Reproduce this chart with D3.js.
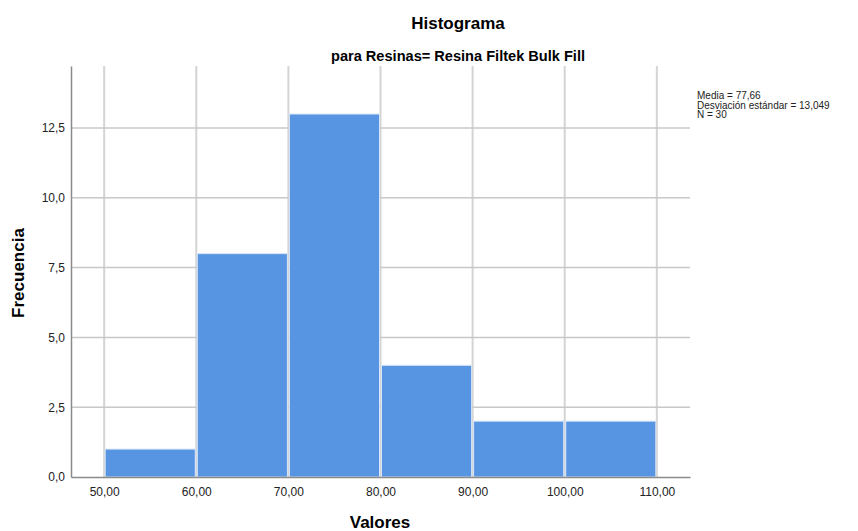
<!DOCTYPE html>
<html>
<head>
<meta charset="utf-8">
<script src="https://cdn.jsdelivr.net/npm/d3@7"></script>
<style>
  body { margin: 0; background: #fff; }
  text { font-family: "Liberation Sans", Arial, sans-serif; }
</style>
</head>
<body>
<div id="chart"></div>
<script>
const binStarts = [50, 60, 70, 80, 90, 100];
const binWidth = 10;
const counts = [1, 8, 13, 4, 2, 2];
const xTicks = [50, 60, 70, 80, 90, 100, 110];
const yTicks = [0, 2.5, 5, 7.5, 10, 12.5];
const statsLines = ["Media = 77,66", "Desviación estándar = 13,049", "N = 30"];

const fullWidth = 858;
const fullHeight = 531;
const margin = { top: 66, right: 168, bottom: 54, left: 71 };
const width = fullWidth - margin.left - margin.right;
const height = fullHeight - margin.top - margin.bottom;

const svg = d3
  .select("#chart")
  .append("svg")
  .attr("width", fullWidth)
  .attr("height", fullHeight);

const g = svg.append("g").attr("transform", `translate(${margin.left}, ${margin.top})`);

const x = d3.scaleLinear().domain([46.4, 113.6]).range([0, width]);
const y = d3.scaleLinear().domain([0, 14.72]).range([height, 0]);

const fmtX = d => d3.format(".2f")(d).replace(".", ",");
const fmtY = d => d3.format(".1f")(d).replace(".", ",");

// grid
g.selectAll(".vgrid")
  .data(xTicks)
  .enter()
  .append("line")
  .attr("x1", d => x(d))
  .attr("x2", d => x(d))
  .attr("y1", 0)
  .attr("y2", height)
  .style("stroke", "#d4d4d4")
  .style("stroke-width", 2);

g.selectAll(".hgrid")
  .data(yTicks.filter(d => d > 0))
  .enter()
  .append("line")
  .attr("x1", 0)
  .attr("x2", width)
  .attr("y1", d => y(d))
  .attr("y2", d => y(d))
  .style("stroke", "#c8c8c8")
  .style("stroke-width", 1.5);

// bars
g.selectAll(".bar")
  .data(counts)
  .enter()
  .append("rect")
  .attr("x", (d, i) => x(binStarts[i]) + 1)
  .attr("width", (d, i) => x(binStarts[i] + binWidth) - x(binStarts[i]) - 2)
  .attr("y", d => y(d))
  .attr("height", d => y(0) - y(d))
  .style("fill", "#5795e3")
  .style("stroke", "#d7e6f8")
  .style("stroke-width", 1);

// axes
const xAxis = g
  .append("g")
  .attr("transform", `translate(0, ${height})`)
  .call(d3.axisBottom(x).tickValues(xTicks).tickFormat(fmtX).tickSize(0).tickPadding(10));
xAxis.select(".domain").style("stroke", "#8a8a8a").style("stroke-width", 1.5);
xAxis.selectAll("text").style("font-size", "12px").style("fill", "#222");

const yAxis = g
  .append("g")
  .call(d3.axisLeft(y).tickValues(yTicks).tickFormat(fmtY).tickSize(0).tickPadding(6));
yAxis.select(".domain").style("stroke", "#8a8a8a").style("stroke-width", 1.5);
yAxis.selectAll("text").style("font-size", "12px").style("fill", "#222");

// titles
svg
  .append("text")
  .attr("x", 458)
  .attr("y", 29)
  .attr("text-anchor", "middle")
  .style("font-size", "17px")
  .style("font-weight", "bold")
  .text("Histograma");

svg
  .append("text")
  .attr("x", 458)
  .attr("y", 61)
  .attr("text-anchor", "middle")
  .attr("textLength", 254)
  .attr("lengthAdjust", "spacingAndGlyphs")
  .style("font-size", "14px")
  .style("font-weight", "bold")
  .text("para Resinas= Resina Filtek Bulk Fill");

svg
  .append("text")
  .attr("x", 380)
  .attr("y", 528)
  .attr("text-anchor", "middle")
  .style("font-size", "17px")
  .style("font-weight", "bold")
  .text("Valores");

svg
  .append("text")
  .attr("transform", "translate(24, 273) rotate(-90)")
  .attr("text-anchor", "middle")
  .style("font-size", "17px")
  .style("font-weight", "bold")
  .text("Frecuencia");

// stats legend
svg
  .selectAll(".stat")
  .data(statsLines)
  .enter()
  .append("text")
  .attr("x", 697)
  .attr("y", (d, i) => 99 + i * 9.5)
  .style("font-size", "10px")
  .style("fill", "#222")
  .text(d => d);
</script>
</body>
</html>
